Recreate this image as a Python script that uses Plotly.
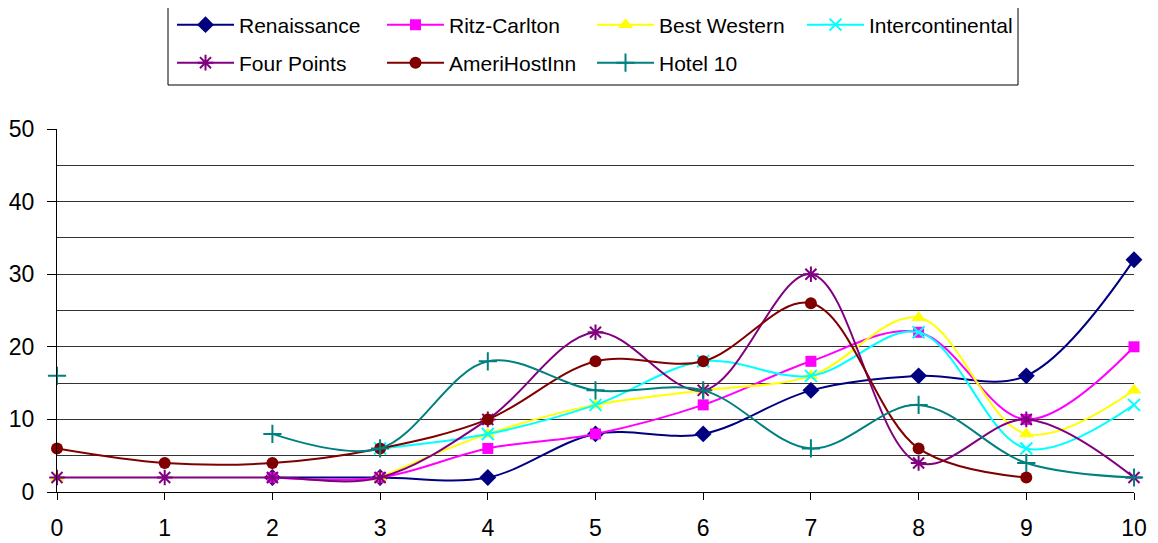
import plotly.graph_objects as go

x_vals = [0, 1, 2, 3, 4, 5, 6, 7, 8, 9, 10]

renaissance = [None, None, 2, 2, 2, 8, 8, 14, 16, 16, 32]
ritz_carlton = [None, None, 2, 2, 6, 8, 12, 18, 22, 10, 20]
best_western = [2, None, None, 2, 8, 12, 14, 16, 24, 8, 14]
intercontinental = [None, None, None, 6, 8, 12, 18, 16, 22, 6, 12]
four_points = [2, 2, 2, 2, 10, 22, 14, 30, 4, 10, 2]
amerihostinn = [6, 4, 4, 6, 10, 18, 18, 26, 6, 2, None]
hotel_10 = [16, None, 8, 6, 18, 14, 14, 6, 12, 4, 2]

series = [
    ("Renaissance", renaissance, "#000080", "diamond", 13, "legend"),
    ("Ritz-Carlton", ritz_carlton, "#FF00FF", "square", 11, "legend"),
    ("Best Western", best_western, "#FFFF00", "triangle-up", 13, "legend"),
    ("Intercontinental", intercontinental, "#00FFFF", "x-thin-open", 12, "legend"),
    ("Four Points", four_points, "#800080", "asterisk-open", 13, "legend2"),
    ("AmeriHostInn", amerihostinn, "#800000", "circle", 12, "legend2"),
    ("Hotel 10", hotel_10, "#008080", "cross-thin-open", 13, "legend2"),
]

fig = go.Figure()
for name, vals, color, sym, size, leg in series:
    fig.add_trace(go.Scatter(
        x=x_vals, y=vals, name=name, mode="lines+markers", legend=leg,
        connectgaps=False, cliponaxis=False,
        line=dict(color=color, width=2, shape="spline", smoothing=1.0),
        marker=dict(symbol=sym, size=size, color=color,
                    line=dict(color=color, width=2 if "open" in sym else 0)),
    ))

# page has an 8px body margin, so the figure is 8px smaller than the window
W, H = 1150, 535
OFF = 8
font_family = "Liberation Sans, Arial, sans-serif"
leg_font = dict(family=font_family, size=21, color="black")
leg_x = (172 - OFF) / W

legend_common = dict(
    orientation="h", xref="container", yref="container",
    x=leg_x, xanchor="left", yanchor="middle",
    borderwidth=0, bgcolor="rgba(0,0,0,0)", font=leg_font,
    entrywidth=138, entrywidthmode="pixels", itemwidth=57,
)

fig.update_layout(
    template="none",
    width=W, height=H,
    margin=dict(l=57 - OFF, r=24, t=129 - OFF, b=51, autoexpand=False),
    paper_bgcolor="white", plot_bgcolor="white",
    font=dict(family=font_family, size=23, color="black"),
    showlegend=True,
    legend=dict(legend_common, y=1 - (25 - OFF) / H),
    legend2=dict(legend_common, y=1 - (63 - OFF) / H),
    shapes=[dict(
        type="rect", xref="paper", yref="paper", layer="below",
        x0=(168 - 57) / 1077, x1=(1018 - 57) / 1077,
        y0=(492 - 85) / 363, y1=(492 - 5) / 363,
        line=dict(color="black", width=1), fillcolor="white",
    )],
    xaxis=dict(
        range=[0, 10], tickmode="linear", dtick=1, showgrid=False,
        showline=True, linecolor="black", linewidth=1,
        ticks="outside", ticklen=7, tickcolor="black", ticklabelstandoff=8,
        zeroline=False, tickfont=dict(size=23), automargin=False,
    ),
    yaxis=dict(
        range=[0, 50], tickmode="linear", dtick=10,
        showgrid=True, gridcolor="#333333", gridwidth=1,
        minor=dict(dtick=5, showgrid=True, gridcolor="#333333", gridwidth=1),
        showline=True, linecolor="black", linewidth=1,
        ticks="outside", ticklen=9, tickcolor="black", ticklabelstandoff=8,
        zeroline=False, tickfont=dict(size=23), automargin=False,
    ),
)

fig.write_html("out.html")
